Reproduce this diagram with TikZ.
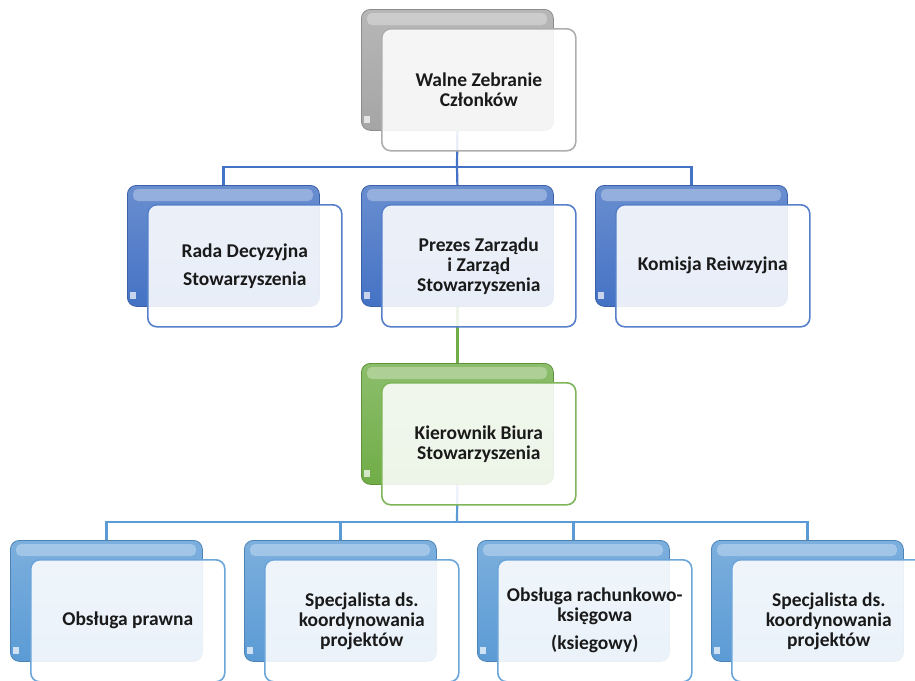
\documentclass[tikz,border=0pt]{standalone}
\usepackage{fontspec}
\setmainfont{Carlito}
\definecolor{grayc}{HTML}{A5A5A5}
\definecolor{bluec}{HTML}{4472C4}
\definecolor{greenc}{HTML}{70AD47}
\definecolor{lbluec}{HTML}{5B9BD5}
\definecolor{textc}{HTML}{1A1A1A}
\pgfdeclarelayer{bg}
\pgfsetlayers{bg,main}
\tikzset{
 backbox/.style={draw=#1!85!black, line width=0.8pt, rounded corners=9pt,
   top color=#1!80!white, bottom color=#1, minimum width=192pt,
   minimum height=121pt, anchor=north west, inner sep=0pt},
 frontbox/.style={draw=#1!90!white, line width=1.6pt, rounded corners=9pt,
   fill=white, fill opacity=0.88, text opacity=1, minimum width=194pt,
   minimum height=122pt, anchor=north west, inner sep=0pt, align=center,
   text=textc, font=\bfseries\fontsize{19.5}{20}\selectfont},
 gloss/.style={fill=white, opacity=0.3, rounded corners=5pt},
 link/.style={draw=#1, line width=2.2pt},
}
\newcommand\orgunit[5]{%
 \node[backbox=#4] (#1b) at (#2,#3) {};
 \fill[gloss] ({#2+6},{#3+4}) rectangle ({#2+186},{#3+16});
 \fill[white, opacity=.7] ({#2+3},{#3+107}) rectangle ({#2+9},{#3+114});
 \node[frontbox=#4] (#1) at ({#2+20},{#3+19}) {#5};
}
\begin{document}
\begin{tikzpicture}[x=1pt,y=-1pt]
\useasboundingbox (0,0) rectangle (915,680);
\clip (0,0) rectangle (915,680);

\orgunit{walne}{361}{9}{grayc}{Walne Zebranie\\Członków}
\orgunit{rada}{127}{185}{bluec}{Rada Decyzyjna\\[8pt]Stowarzyszenia}
\orgunit{prezes}{361}{185}{bluec}{Prezes Zarządu\\i Zarząd\\Stowarzyszenia}
\orgunit{komisja}{595}{185}{bluec}{Komisja Reiwzyjna}
\orgunit{kier}{361}{363}{greenc}{Kierownik Biura\\Stowarzyszenia}
\orgunit{prawna}{10}{540}{lbluec}{Obsługa prawna}
\orgunit{specA}{244}{540}{lbluec}{Specjalista ds.\\koordynowania\\projektów}
\orgunit{ksieg}{477}{540}{lbluec}{Obsługa rachunkowo-\\księgowa\\[8pt](ksiegowy)}
\orgunit{specB}{711}{540}{lbluec}{Specjalista ds.\\koordynowania\\projektów}

\begin{pgfonlayer}{bg}
 \fill[white] (0,0) rectangle (915,680);
 \coordinate (bus1) at (457,167);
 \draw[link=bluec] (walneb.south) -- (bus1);
 \draw[link=bluec] (radab.north) |- (bus1) -| (komisjab.north);
 \draw[link=bluec] (bus1) -- (prezesb.north);
 \draw[link=greenc] (prezesb.south) -- (kierb.north);
 \coordinate (bus2) at (457,522);
 \draw[link=lbluec] (kierb.south) -- (bus2);
 \draw[link=lbluec] (prawnab.north) |- (bus2) -| (specBb.north);
 \draw[link=lbluec] (specAb.north) |- (bus2);
 \draw[link=lbluec] (ksiegb.north) |- (bus2);
\end{pgfonlayer}
\end{tikzpicture}
\end{document}
